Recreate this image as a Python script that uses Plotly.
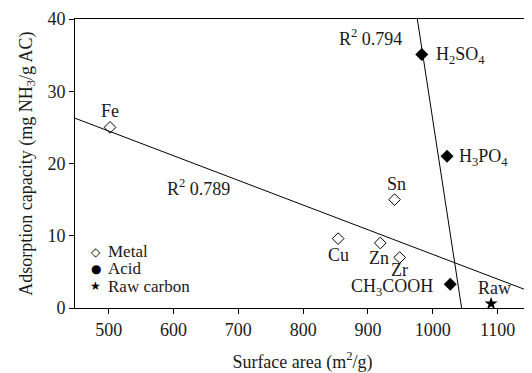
import numpy as np
import plotly.graph_objects as go

# Data
metal_names = ["Fe", "Cu", "Zn", "Zr", "Sn"]
metal_area = [502, 854, 919, 949, 941]
metal_cap = [25.0, 9.6, 9.0, 7.0, 15.0]

acid_names = ["H<sub>2</sub>SO<sub>4</sub>", "H<sub>3</sub>PO<sub>4</sub>", "CH<sub>3</sub>COOH"]
acid_area = [983, 1022, 1027]
acid_cap = [35.1, 21.0, 3.3]

raw_name = ["Raw"]
raw_area = [1090]
raw_cap = [0.6]

r2_metal = "R<sup>2</sup> 0.789"
r2_acid = "R<sup>2</sup> 0.794"

legend_names = ["Metal", "Acid", "Raw carbon"]
legend_glyphs = ["\u25c7", "\u25cf", "\u2605"]

x_range = [448, 1150]
y_range = [0, 40]
x_ticks = [500, 600, 700, 800, 900, 1000, 1100]
y_ticks = [0, 10, 20, 30, 40]

FONT = "Liberation Serif, Times New Roman, serif"
TXT = "#1a1a1a"

# Linear fits
m_slope, m_int = np.polyfit(metal_area, metal_cap, 1)
a_slope, a_int = np.polyfit(acid_area, acid_cap, 1)
xm = np.array(x_range, dtype=float)
ym = m_slope * xm + m_int
ya = np.array(y_range, dtype=float)
xa = (ya - a_int) / a_slope

fig = go.Figure()
fig.add_trace(go.Scatter(x=xm, y=ym, mode="lines", line=dict(color="black", width=1),
                         showlegend=False, hoverinfo="skip"))
fig.add_trace(go.Scatter(x=xa, y=ya, mode="lines", line=dict(color="black", width=1),
                         showlegend=False, hoverinfo="skip"))
fig.add_trace(go.Scatter(x=metal_area, y=metal_cap, mode="markers", showlegend=False,
                         marker=dict(symbol="diamond-open", size=9, color="black",
                                     line=dict(width=1, color="black"))))
fig.add_trace(go.Scatter(x=acid_area, y=acid_cap, mode="markers", showlegend=False,
                         marker=dict(symbol="diamond", size=10, color="black")))
fig.add_trace(go.Scatter(x=raw_area, y=raw_cap, mode="markers", showlegend=False,
                         marker=dict(symbol="star", size=10, color="black")))

LBL = 18

def lab(x, y, t, dx=0, dy=0, xa="center", size=LBL):
    fig.add_annotation(x=x, y=y, text=t, showarrow=False, xshift=dx, yshift=dy,
                       xanchor=xa, font=dict(size=size, family=FONT, color=TXT))

# point labels
lab(metal_area[0], metal_cap[0], metal_names[0], dy=16)
lab(metal_area[1], metal_cap[1], metal_names[1], dy=-16)
lab(metal_area[2], metal_cap[2], metal_names[2], dx=-1, dy=-15)
lab(metal_area[3], metal_cap[3], metal_names[3], dy=-13)
lab(metal_area[4], metal_cap[4], metal_names[4], dx=2, dy=16)
lab(acid_area[0], acid_cap[0], acid_names[0], dx=12, dy=-1, xa="left")
lab(acid_area[1], acid_cap[1], acid_names[1], dx=10, dy=-1, xa="left")
lab(acid_area[2], acid_cap[2], acid_names[2], dx=-58, dy=-3)
lab(raw_area[0], raw_cap[0], raw_name[0], dx=3, dy=16)
# R2 labels
lab(639, 16.7, r2_metal)
lab(904, 37.4, r2_acid)

# legend (symbol + text) in the lower-left corner
leg_y = [7.8, 5.4, 3.0]
for g, n, yy in zip(legend_glyphs, legend_names, leg_y):
    fig.add_annotation(x=480, y=yy, text=g, showarrow=False, xanchor="center",
                       font=dict(size=12, family="DejaVu Sans", color="black"))
    fig.add_annotation(x=495.5, y=yy, text=n, showarrow=False, xanchor="left",
                       font=dict(size=17, family=FONT, color=TXT))

axis_common = dict(showline=True, linecolor="black", linewidth=1, mirror=True,
                   ticks="outside", ticklen=5, tickcolor="black", showgrid=False,
                   zeroline=False, ticklabeloverflow="allow",
                   tickfont=dict(size=18, family=FONT, color=TXT))

fig.update_layout(
    width=524, height=365,
    margin=dict(l=67, r=1, t=6, b=65),
    paper_bgcolor="white", plot_bgcolor="white",
    font=dict(family=FONT, color=TXT),
    xaxis=dict(range=x_range, tickvals=x_ticks, **axis_common,
               title=dict(text="Surface area (m<sup>2</sup>/g)", standoff=16,
                          font=dict(size=18, family=FONT, color=TXT))),
    yaxis=dict(range=y_range, tickvals=y_ticks, **axis_common,
               title=dict(text="Adsorption capacity (mg NH<sub>3</sub>/g AC)", standoff=10,
                          font=dict(size=18, family=FONT, color=TXT))),
    showlegend=False,
)

fig.write_html("out.html")
